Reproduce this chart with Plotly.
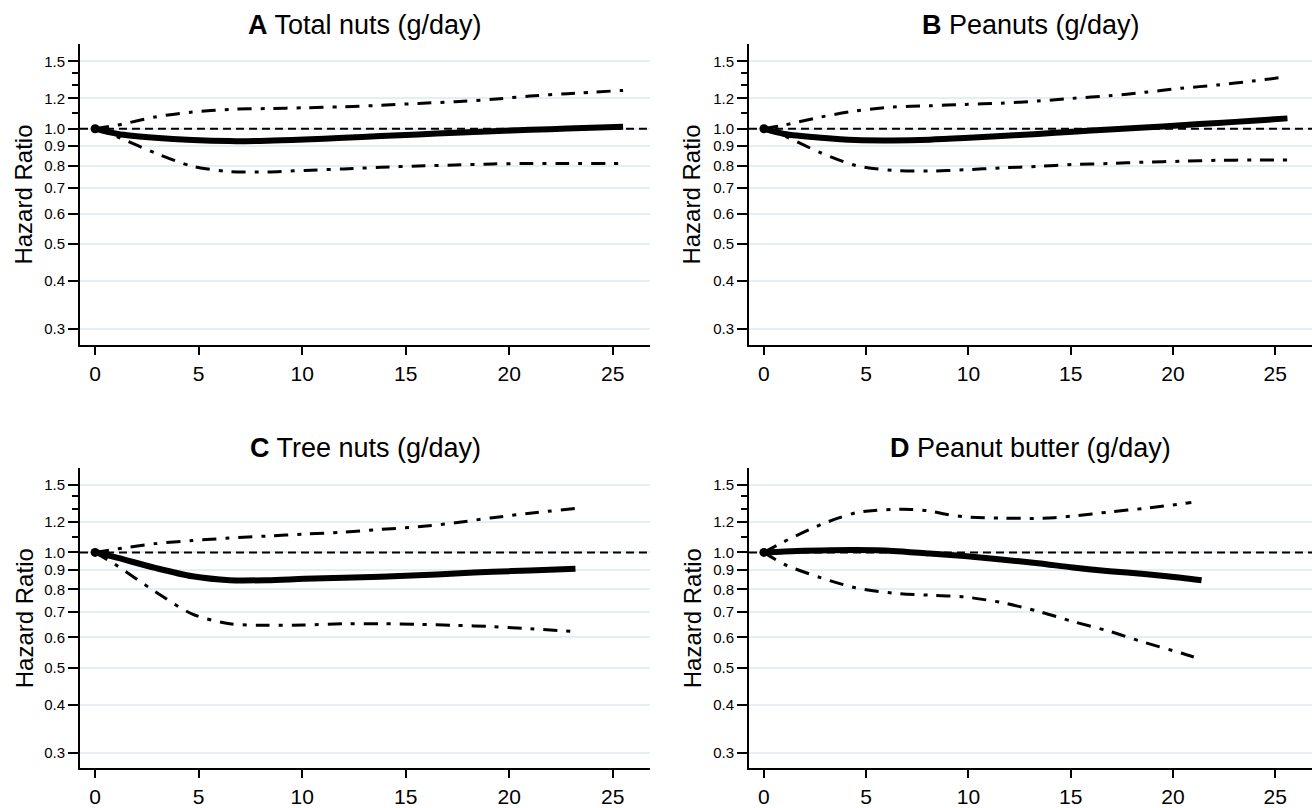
import plotly.graph_objects as go

W, H = 1312, 808

# ---------------- data ----------------
titles = ["<b>A</b> Total nuts (g/day)", "<b>B</b> Peanuts (g/day)",
          "<b>C</b> Tree nuts (g/day)", "<b>D</b> Peanut butter (g/day)"]

ytick_vals = [0.3, 0.4, 0.5, 0.6, 0.7, 0.8, 0.9, 1.0, 1.2, 1.5]
ytick_text = ["0.3", "0.4", "0.5", "0.6", "0.7", "0.8", "0.9", "1.0", "1.2", "1.5"]
yminor_vals = [1.1, 1.3, 1.4]
xtick_vals = [0, 5, 10, 15, 20, 25]

# Panel A: total nuts
a_x = [0, 1.1, 2.9, 4.7, 6.5, 8.3, 10.1, 12.0, 13.8, 15.6, 17.4, 19.2, 21.0, 22.8, 25.5]
a_hr = [1.0, 0.969, 0.947, 0.934, 0.928, 0.930, 0.937, 0.947, 0.957, 0.966, 0.976, 0.985, 0.993, 1.001, 1.012]
a_up = [1.0, 1.022, 1.073, 1.105, 1.123, 1.129, 1.134, 1.141, 1.151, 1.164, 1.176, 1.193, 1.217, 1.234, 1.259]
a_lo = [1.0, 0.951, 0.864, 0.798, 0.773, 0.771, 0.778, 0.785, 0.793, 0.799, 0.804, 0.809, 0.811, 0.811, 0.811]

# Panel B: peanuts
b_x = [0, 1.0, 2.8, 4.5, 6.3, 8.1, 9.8, 11.6, 13.4, 15.1, 16.9, 18.6, 20.4, 22.2, 23.9, 25.6]
b_hr = [1.0, 0.969, 0.947, 0.934, 0.932, 0.936, 0.945, 0.957, 0.969, 0.982, 0.995, 1.007, 1.021, 1.035, 1.049, 1.064]
b_up = [1.0, 1.022, 1.073, 1.113, 1.139, 1.148, 1.157, 1.166, 1.181, 1.200, 1.219, 1.244, 1.275, 1.301, 1.332, 1.367]
b_lo = [1.0, 0.957, 0.864, 0.801, 0.778, 0.775, 0.781, 0.790, 0.797, 0.806, 0.811, 0.818, 0.822, 0.827, 0.828, 0.828]

# Panel C: tree nuts
c_x = [0, 1.1, 2.9, 4.7, 6.5, 8.3, 10.1, 12.0, 13.8, 15.6, 17.4, 19.2, 21.0, 23.2]
c_hr = [1.0, 0.967, 0.911, 0.866, 0.846, 0.846, 0.853, 0.858, 0.864, 0.871, 0.881, 0.890, 0.897, 0.906]
c_up = [1.0, 1.022, 1.054, 1.074, 1.090, 1.103, 1.116, 1.129, 1.148, 1.166, 1.195, 1.232, 1.265, 1.303]
c_lo = [1.0, 0.920, 0.790, 0.690, 0.651, 0.645, 0.646, 0.651, 0.651, 0.649, 0.645, 0.640, 0.632, 0.621]

# Panel D: peanut butter
d_x = [0, 1.0, 2.8, 4.5, 6.3, 8.1, 9.8, 11.6, 13.4, 15.1, 16.9, 18.6, 20.4, 21.4]
d_hr = [1.0, 1.006, 1.012, 1.014, 1.009, 0.993, 0.978, 0.958, 0.937, 0.913, 0.893, 0.878, 0.859, 0.846]
d_lo = [1.0, 0.930, 0.858, 0.808, 0.783, 0.773, 0.765, 0.740, 0.702, 0.660, 0.622, 0.582, 0.546, 0.525]
d_up_x = [0, 1.2, 2.8, 3.7, 4.5, 5.4, 6.3, 7.2, 8.1, 8.9, 9.8, 11.6, 13.4, 14.2, 15.1, 16.9, 18.6, 20.9]
d_up = [1.0, 1.081, 1.183, 1.232, 1.269, 1.287, 1.295, 1.295, 1.283, 1.257, 1.239, 1.229, 1.227, 1.232, 1.244, 1.275, 1.303, 1.349]

panels = [
    dict(x_hr=a_x, hr=a_hr, x_up=a_x, up=a_up, x_lo=a_x, lo=a_lo),
    dict(x_hr=b_x, hr=b_hr, x_up=b_x, up=b_up, x_lo=b_x, lo=b_lo),
    dict(x_hr=c_x, hr=c_hr, x_up=c_x, up=c_up, x_lo=c_x, lo=c_lo),
    dict(x_hr=d_x, hr=d_hr, x_up=d_up_x, up=d_up, x_lo=d_x, lo=d_lo),
]

# ---------------- layout geometry (pixels) ----------------
col_px = [(80, 650), (749, 1312)]
row_px = [(45, 349), (474, 778)]
title_y_px = [25, 454]
ytitle_x_px = [24, 692]

x_range = [-0.73, 26.8]
y_range = [-0.564, 0.220]  # log10

FONT = "Liberation Sans, Arial, Helvetica, sans-serif"
GRID = "#e4eef4"
CI_DASH = "14px,9px,4px,9px"

fig = go.Figure()
layout = dict(
    width=W, height=H, margin=dict(l=0, r=0, t=0, b=0),
    paper_bgcolor="white", plot_bgcolor="white",
    showlegend=False, font=dict(family=FONT, color="black"),
    annotations=[], shapes=[],
)

for i, p in enumerate(panels):
    r, c = divmod(i, 2)
    n = i + 1
    xa = "x" if n == 1 else f"x{n}"
    ya = "y" if n == 1 else f"y{n}"
    x0, x1 = col_px[c]
    y0, y1 = row_px[r]
    xdom = [x0 / W, x1 / W]
    ydom = [1 - y1 / H, 1 - y0 / H]

    layout[f"xaxis{'' if n == 1 else n}"] = dict(
        domain=xdom, anchor=ya, range=x_range,
        tickmode="array", tickvals=xtick_vals,
        ticks="outside", ticklen=8, tickwidth=1.7, tickcolor="black",
        showline=True, linecolor="black", linewidth=1.8,
        showgrid=False, zeroline=False,
        tickfont=dict(size=21, family=FONT, color="black"),
        ticklabelstandoff=1,
    )
    layout[f"yaxis{'' if n == 1 else n}"] = dict(
        domain=ydom, anchor=xa, type="log", range=y_range,
        tickmode="array", tickvals=ytick_vals, ticktext=ytick_text,
        ticks="outside", ticklen=10, tickwidth=1.7, tickcolor="black",
        showline=True, linecolor="black", linewidth=1.8,
        showgrid=True, gridcolor=GRID, gridwidth=2, zeroline=False,
        tickfont=dict(size=15, family=FONT, color="black"),
        minor=dict(tickmode="array", tickvals=yminor_vals, ticks="outside",
                   ticklen=6, tickwidth=1.7, tickcolor="black", showgrid=False),
    )

    # reference line at HR = 1
    layout["shapes"].append(dict(
        type="line", xref=f"{xa} domain", x0=0, x1=1, yref=ya, y0=1, y1=1,
        line=dict(color="black", width=2, dash="8px,5px"), layer="above",
    ))

    # CI curves
    for xs, ys in ((p["x_up"], p["up"]), (p["x_lo"], p["lo"])):
        fig.add_trace(go.Scatter(
            x=xs, y=ys, xaxis=xa, yaxis=ya, mode="lines",
            line=dict(color="black", width=3, dash=CI_DASH, shape="spline", smoothing=0.8),
            hoverinfo="skip",
        ))
    # HR curve
    sizes = [9] + [0] * (len(p["hr"]) - 1)
    fig.add_trace(go.Scatter(
        x=p["x_hr"], y=p["hr"], xaxis=xa, yaxis=ya, mode="lines+markers",
        line=dict(color="black", width=6, shape="spline", smoothing=0.8),
        marker=dict(size=sizes, color="black", opacity=1, line=dict(width=0)),
        hoverinfo="skip",
    ))

    # panel title
    layout["annotations"].append(dict(
        text=titles[i], xref="paper", yref="paper",
        x=(x0 + x1) / 2 / W, y=1 - title_y_px[r] / H,
        xanchor="center", yanchor="middle", showarrow=False,
        font=dict(size=27, family=FONT, color="black"),
    ))
    # y-axis title
    layout["annotations"].append(dict(
        text="Hazard Ratio", xref="paper", yref="paper",
        x=ytitle_x_px[c] / W, y=1 - (y0 + y1) / 2 / H,
        xanchor="center", yanchor="middle", textangle=-90, showarrow=False,
        font=dict(size=24, family=FONT, color="black"),
    ))

fig.update_layout(**layout)

fig.write_html("out.html", config={"displayModeBar": False},
               post_script="document.body.style.margin='0px';document.body.style.overflow='hidden';")
